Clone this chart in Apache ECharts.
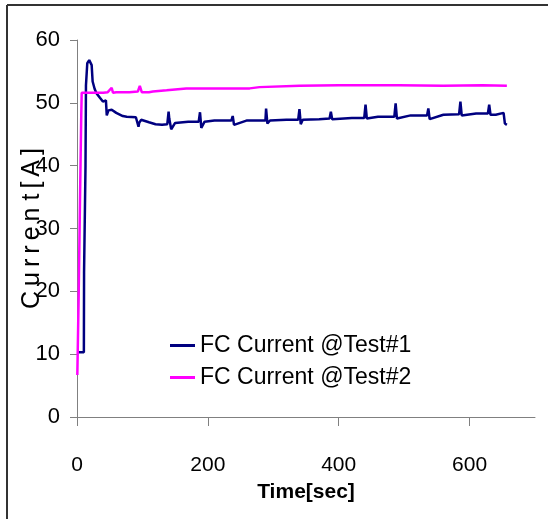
<!DOCTYPE html>
<html>
<head>
<meta charset="utf-8">
<script src="https://cdn.jsdelivr.net/npm/echarts@6/dist/echarts.min.js"></script>
<style>html,body{margin:0;padding:0;background:#fff}#c{width:548px;height:519px}</style>
</head>
<body>
<div id="c"></div>
<script>
// ---- data ----
var seriesNames = ['FC Current @Test#1', 'FC Current @Test#2'];
var xTickValues = [0, 200, 400, 600];
var yTickValues = [0, 10, 20, 30, 40, 50, 60];

var test1Time = [1.5, 10.5, 10.8, 12.5, 13, 13.7, 15.7, 18.7, 22.4, 23.9, 27, 30, 35, 39.6, 44.2, 45.5, 48, 53, 60, 70, 76, 90, 92, 94, 95, 98, 110, 120, 130, 138, 140, 141, 144, 150, 170, 186, 188, 190, 195, 210, 230, 236, 238, 240, 260, 280, 288, 289, 291, 295, 320, 338, 340, 342, 345, 370, 386, 388, 390, 420, 439, 441, 443, 460, 485, 487, 489, 510, 535, 537, 539, 560, 584, 586, 588, 610, 628, 630, 632, 640, 652, 654, 657];
var test1Current = [10.3, 10.3, 23, 23.2, 40, 52.8, 56.3, 56.8, 56, 53.4, 52.2, 51.5, 50.8, 50.2, 50.4, 48.0, 48.8, 48.9, 48.4, 47.9, 47.8, 47.7, 47.7, 46.2, 46.8, 47.3, 46.9, 46.6, 46.5, 46.6, 48.6, 47.5, 45.8, 46.8, 47.0, 47.0, 48.5, 46.0, 47.0, 47.2, 47.2, 47.2, 47.9, 46.5, 47.2, 47.2, 47.2, 49.1, 46.7, 47.2, 47.3, 47.3, 49.0, 46.6, 47.3, 47.4, 47.5, 48.6, 47.4, 47.6, 47.6, 49.7, 47.5, 47.8, 47.8, 49.9, 47.5, 48.0, 48.0, 49.1, 47.4, 48.1, 48.2, 50.2, 48.0, 48.3, 48.3, 49.7, 48.1, 48.1, 48.4, 46.7, 46.5];

var test2Time = [0.5, 2.5, 4.5, 6.5, 7.2, 20, 40, 47, 50, 53, 55, 60, 80, 93, 96, 99, 110, 116, 137, 167, 200, 264, 279, 340, 400, 492, 560, 620, 657];
var test2Current = [6.7, 19, 34, 48, 51.6, 51.6, 51.6, 51.7, 51.8, 52.4, 51.6, 51.7, 51.7, 51.8, 52.7, 51.7, 51.7, 51.8, 52.0, 52.3, 52.3, 52.3, 52.5, 52.7, 52.8, 52.8, 52.7, 52.8, 52.7];

function pairs(xs, ys) { var out = []; for (var i = 0; i < xs.length; i++) out.push([xs[i], ys[i]]); return out; }

var FONT = "'Liberation Sans', Arial, sans-serif";
var chart = echarts.init(document.getElementById('c'), null, {renderer: 'canvas'});
chart.setOption({
  animation: false,
  backgroundColor: '#fff',
  graphic: [
    {type: 'line', shape: {x1: 7, y1: 5, x2: 7, y2: 519}, style: {stroke: '#333', lineWidth: 2}},
    {type: 'line', shape: {x1: 7, y1: 5, x2: 548, y2: 5}, style: {stroke: '#333', lineWidth: 2}}
  ],
  grid: {left: 77, right: 13, top: 40, bottom: 102, containLabel: false, outerBoundsMode: 'none'},
  legend: {
    orient: 'vertical', left: 165, top: 329, itemGap: 9, itemWidth: 25, itemHeight: 3, icon: 'rect',
    data: seriesNames,
    textStyle: {fontFamily: FONT, fontSize: 23, color: '#000'}
  },
  xAxis: {
    type: 'value', min: 0, max: 700, interval: 100,
    name: 'Time[sec]', nameLocation: 'middle', nameGap: 65, nameMoveOverlap: false,
    nameTextStyle: {fontFamily: FONT, fontSize: 21, fontWeight: 'bold', color: '#000'},
    axisLine: {show: true, lineStyle: {color: '#808080', width: 1}},
    axisTick: {show: true, length: 9, customValues: xTickValues, lineStyle: {color: '#808080'}},
    axisLabel: {customValues: xTickValues, margin: 38, fontFamily: FONT, fontSize: 21, color: '#000'},
    splitLine: {show: false}
  },
  yAxis: {
    type: 'value', min: 0, max: 60, interval: 10,
    name: 'C\u2009u\u2009r\u2009r\u2009e\u2009n t\u2009[\u2009A\u2009]', nameLocation: 'middle', nameGap: 32, nameRotate: 90, nameMoveOverlap: false,
    nameTextStyle: {fontFamily: FONT, fontSize: 25, color: '#000'},
    axisLine: {show: true, lineStyle: {color: '#808080', width: 1}},
    axisTick: {show: true, length: 7, lineStyle: {color: '#808080'}},
    axisLabel: {margin: 17, fontFamily: FONT, fontSize: 22, color: '#000', padding: [6, 0, 0, 0]},
    splitLine: {show: false}
  },
  series: [
    {name: seriesNames[0], type: 'line', data: pairs(test1Time, test1Current), symbol: 'none', showSymbol: false,
     lineStyle: {color: '#000080', width: 2.5}, itemStyle: {color: '#000080'}},
    {name: seriesNames[1], type: 'line', data: pairs(test2Time, test2Current), symbol: 'none', showSymbol: false,
     lineStyle: {color: '#ff00ff', width: 2.5}, itemStyle: {color: '#ff00ff'}}
  ]
});
</script>
</body>
</html>
